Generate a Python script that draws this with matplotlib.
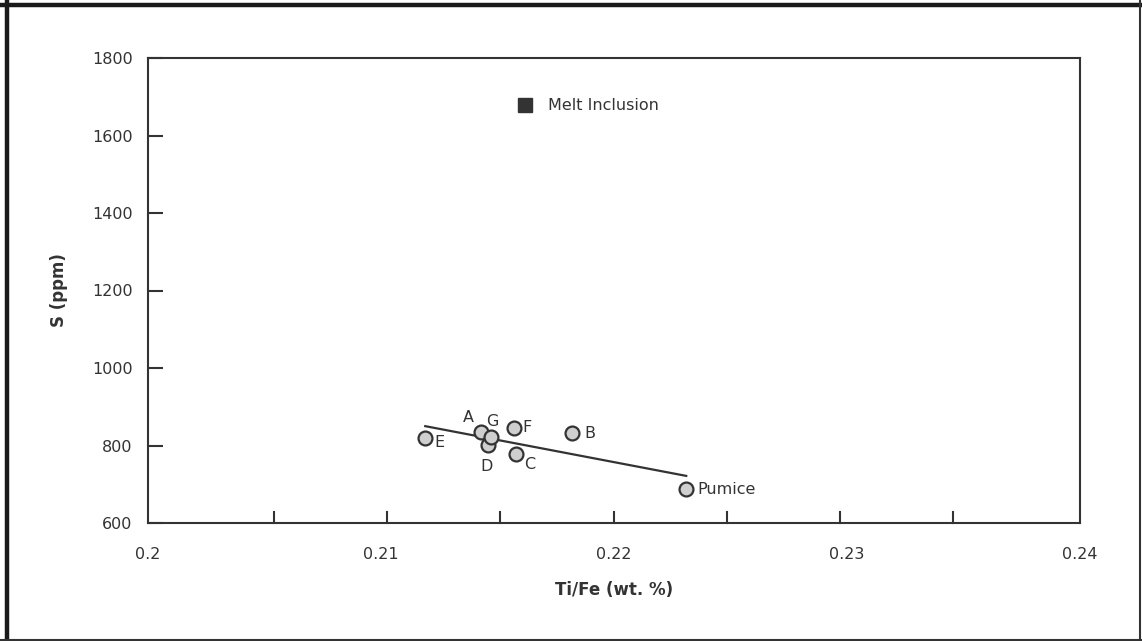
import numpy as np
import matplotlib.pyplot as plt
from matplotlib.lines import Line2D

DARK = "#333333"
FILL = "#cfcfcf"

# sample Ti/Fe ratios and sulfur contents
samples = ["A", "B", "C", "D", "E", "F", "G", "Pumice"]
ti_fe = [0.2143, 0.2182, 0.2158, 0.2146, 0.2119, 0.2157, 0.2147, 0.2231]
sulfur = [835, 832, 778, 801, 819, 845, 822, 688]

# melt inclusion series (no analyses plotted)
melt_ti_fe = []
melt_sulfur = []

# label offsets in pixels (dx, dy)
label_offsets = {
    "A": (-13, 14), "B": (18, 0), "C": (14, -10), "D": (-2, -21),
    "E": (14, -4), "F": (13, 1), "G": (2, 15), "Pumice": (11, -1),
}

plt.rcParams["font.family"] = "DejaVu Sans"

fig = plt.figure(figsize=(11.42, 6.41), dpi=100)
ax = fig.add_axes([148 / 1142, 118 / 641, 932 / 1142, 465 / 641])

# regression line across the sample range
slope, intercept = np.polyfit(ti_fe, sulfur, 1)
xfit = np.array([min(ti_fe), max(ti_fe)])
ax.plot(xfit, slope * xfit + intercept, color=DARK, lw=1.6, zorder=2)

ax.plot(ti_fe, sulfur, "o", ms=10, mfc=FILL, mec=DARK, mew=1.6, zorder=3)
ax.plot(melt_ti_fe, melt_sulfur, "s", ms=10, color=DARK, label="Melt Inclusion")

for name, x, y in zip(samples, ti_fe, sulfur):
    dx, dy = label_offsets[name]
    ax.annotate(name, (x, y), xytext=(dx, dy), textcoords="offset pixels",
                ha="left" if name == "Pumice" else "center", va="center",
                fontsize=11.5, color=DARK, zorder=4)

ax.set_xlim(0.2, 0.24)
ax.set_ylim(600, 1800)
ax.set_xticks([0.2, 0.21, 0.22, 0.23, 0.24])
ax.set_xticklabels(["0.2", "0.21", "0.22", "0.23", "0.24"])
ax.set_yticks(range(600, 1801, 200))

# the x tick marks do not sit under the labels, so draw them separately
ax.tick_params(axis="x", length=0, pad=17, labelsize=11.5, labelcolor=DARK)
for xt in np.linspace(0.20541, 0.23455, 7):
    ax.plot([xt, xt], [600, 600 + 11 / 465 * 1200], color=DARK, lw=1.5,
            clip_on=False, zorder=1)
ax.tick_params(axis="y", direction="in", length=11, width=1.5, color=DARK,
               pad=11, labelsize=11.5, labelcolor=DARK)
for t in ax.yaxis.get_major_ticks():
    if t.get_loc() in (600, 1800):
        t.tick1line.set_visible(False)

for sp in ax.spines.values():
    sp.set_color(DARK)
    sp.set_linewidth(1.5)

ax.set_xlabel("Ti/Fe (wt. %)", fontsize=12, fontweight="bold", color=DARK, labelpad=14)
ax.set_ylabel("S (ppm)", fontsize=12, fontweight="bold", color=DARK, labelpad=17)

ax.legend(loc="center left", bbox_to_anchor=(0.381, 0.897), frameon=False,
          fontsize=11.5, handlelength=1.0, handletextpad=0.9, labelcolor=DARK)

# outer frame
fig.add_artist(Line2D([7 / 1142, 7 / 1142], [0, 1], color="#1a1a1a", lw=3.2, transform=fig.transFigure))
fig.add_artist(Line2D([0, 1], [1 - 5 / 641, 1 - 5 / 641], color="#1a1a1a", lw=3.2, transform=fig.transFigure))
fig.add_artist(Line2D([1139.5 / 1142, 1139.5 / 1142], [0, 1], color="#333333", lw=1.5, transform=fig.transFigure))
fig.add_artist(Line2D([0, 1], [1 / 641, 1 / 641], color="#333333", lw=1.5, transform=fig.transFigure))

fig.savefig("out.png", dpi=100)
